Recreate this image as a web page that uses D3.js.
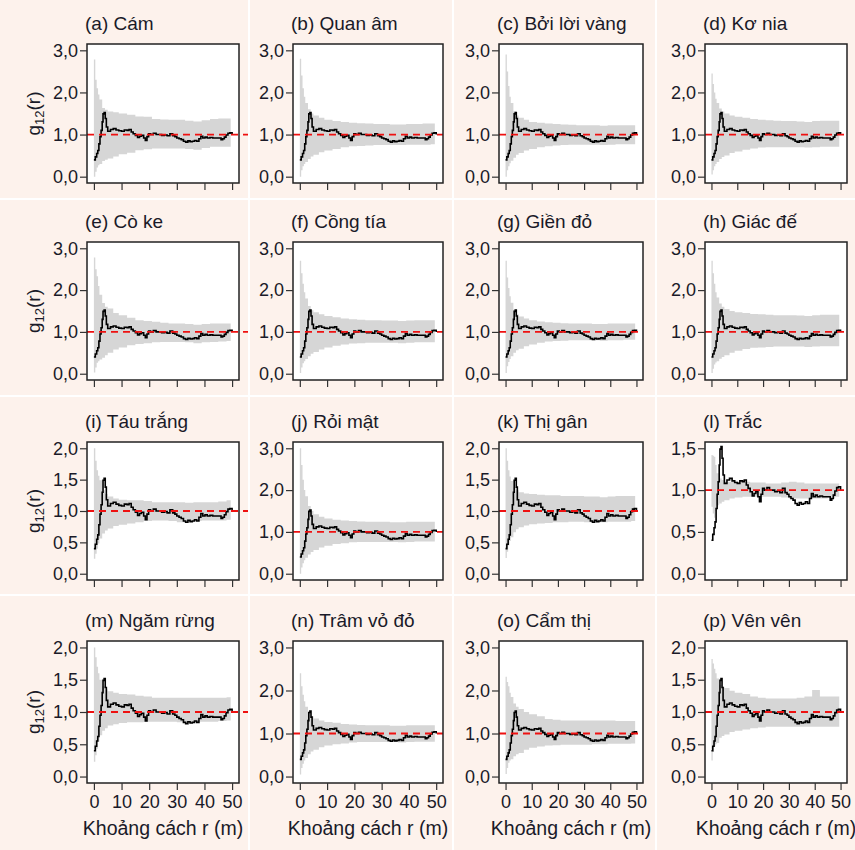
<!DOCTYPE html>
<html>
<head>
<meta charset="utf-8">
<script src="https://cdn.jsdelivr.net/npm/d3@7"></script>
<style>
  body { margin: 0; background: #fdf2ec; }
  text { font-family: "Liberation Sans", Arial, sans-serif; fill: #1a1a28; }
</style>
</head>
<body>
<div id="chart"></div>
<script>
// panel titles, row by row
const titles = ["(a) Cám", "(b) Quan âm", "(c) Bởi lời vàng", "(d) Kơ nia",
  "(e) Cò ke", "(f) Cồng tía", "(g) Giền đỏ", "(h) Giác đế",
  "(i) Táu trắng", "(j) Rỏi mật", "(k) Thị gân", "(l) Trắc",
  "(m) Ngăm rừng", "(n) Trâm vỏ đỏ", "(o) Cẩm thị", "(p) Vên vên"];

// top tick of each panel's y axis
const yTops = [3, 3, 3, 3, 3, 3, 3, 3, 2, 3, 2, 1.5, 2, 3, 3, 2];

const xTicks = [0, 10, 20, 30, 40, 50];

// observed g12(r), step function
const rObs = [0, 0.5, 1, 1.4, 1.8, 2.2, 2.6, 3, 3.3, 3.7, 4.1, 4.5, 5, 6, 7, 8, 9, 10, 11, 12, 12.7,
  13.5, 14.2, 15, 15.8, 16.5, 17.2, 18, 18.6, 19.2, 19.8, 20.5, 21.5, 22.5, 23.5, 24.5, 25.5, 26.5,
  27.5, 28.5, 29.3, 30, 30.8, 31.6, 32.4, 33.2, 34, 34.8, 35.6, 36.4, 37.2, 38, 38.7, 39.4, 40.2,
  41, 42, 43, 44, 45, 46, 46.6, 47.2, 47.8, 48.5, 49.2, 50];
const gObs = [0.40, 0.47, 0.55, 0.62, 0.78, 0.95, 1.10, 1.30, 1.49, 1.52, 1.38, 1.18, 1.08, 1.12,
  1.14, 1.11, 1.09, 1.08, 1.11, 1.10, 1.12, 1.06, 1.02, 0.98, 0.93, 0.96, 0.98, 0.92, 0.86, 0.95,
  1.02, 1.00, 1.03, 1.00, 1.00, 0.98, 0.99, 0.97, 1.02, 0.97, 0.95, 0.92, 0.90, 0.88, 0.84, 0.82,
  0.85, 0.83, 0.84, 0.86, 0.84, 0.90, 0.96, 0.92, 0.94, 0.92, 0.93, 0.92, 0.92, 0.92, 0.88, 0.90,
  0.94, 0.99, 1.03, 1.04, 1.00];

// simulation envelope: r grid, then upper / lower per panel
const rEnv = [0, 0.5, 1, 1.5, 2, 3, 4, 5, 7, 9, 12, 15, 18, 21, 24, 27, 30, 33, 36, 39, 42, 45, 48, 49.5];
const envUpper = [
  [2.78, 2.30, 2.10, 1.95, 1.83, 1.63, 1.59, 1.55, 1.53, 1.50, 1.47, 1.43, 1.42, 1.37, 1.36, 1.35, 1.35, 1.33, 1.31, 1.34, 1.37, 1.38, 1.38, 1.38],
  [2.80, 2.40, 2.10, 1.90, 1.75, 1.60, 1.50, 1.45, 1.40, 1.35, 1.32, 1.30, 1.28, 1.27, 1.26, 1.25, 1.25, 1.24, 1.24, 1.25, 1.25, 1.26, 1.26, 1.26],
  [2.90, 2.50, 2.15, 1.90, 1.75, 1.55, 1.45, 1.40, 1.35, 1.30, 1.28, 1.26, 1.25, 1.24, 1.23, 1.22, 1.22, 1.22, 1.21, 1.22, 1.22, 1.22, 1.22, 1.22],
  [2.45, 2.20, 2.00, 1.85, 1.75, 1.62, 1.55, 1.50, 1.45, 1.42, 1.40, 1.37, 1.35, 1.34, 1.33, 1.32, 1.32, 1.31, 1.30, 1.32, 1.33, 1.33, 1.33, 1.33],
  [2.78, 2.50, 2.33, 2.10, 1.89, 1.69, 1.60, 1.56, 1.45, 1.40, 1.34, 1.28, 1.26, 1.24, 1.22, 1.20, 1.20, 1.19, 1.17, 1.19, 1.20, 1.20, 1.20, 1.20],
  [2.70, 2.40, 2.15, 1.95, 1.80, 1.62, 1.52, 1.47, 1.42, 1.38, 1.35, 1.32, 1.30, 1.29, 1.28, 1.28, 1.27, 1.27, 1.26, 1.27, 1.28, 1.28, 1.28, 1.28],
  [2.70, 2.30, 2.05, 1.85, 1.70, 1.52, 1.42, 1.37, 1.32, 1.28, 1.25, 1.23, 1.22, 1.21, 1.20, 1.20, 1.20, 1.19, 1.19, 1.20, 1.20, 1.20, 1.20, 1.20],
  [2.70, 2.40, 2.15, 1.95, 1.82, 1.68, 1.60, 1.55, 1.50, 1.47, 1.45, 1.43, 1.42, 1.41, 1.40, 1.40, 1.40, 1.39, 1.38, 1.40, 1.41, 1.41, 1.41, 1.41],
  [2.00, 1.80, 1.65, 1.56, 1.49, 1.33, 1.27, 1.23, 1.20, 1.18, 1.17, 1.17, 1.16, 1.14, 1.14, 1.14, 1.14, 1.13, 1.14, 1.14, 1.14, 1.15, 1.17, 1.17],
  [3.00, 2.60, 2.25, 2.00, 1.85, 1.62, 1.50, 1.42, 1.36, 1.32, 1.29, 1.27, 1.26, 1.25, 1.24, 1.24, 1.24, 1.23, 1.23, 1.24, 1.24, 1.24, 1.24, 1.24],
  [2.00, 1.80, 1.65, 1.55, 1.48, 1.38, 1.33, 1.30, 1.28, 1.27, 1.26, 1.25, 1.25, 1.24, 1.24, 1.24, 1.23, 1.23, 1.22, 1.23, 1.24, 1.24, 1.24, 1.24],
  [1.42, 1.41, 1.40, 1.30, 1.20, 1.14, 1.12, 1.10, 1.10, 1.10, 1.10, 1.09, 1.09, 1.08, 1.08, 1.09, 1.10, 1.09, 1.08, 1.08, 1.08, 1.08, 1.08, 1.08],
  [2.00, 1.85, 1.70, 1.60, 1.50, 1.40, 1.35, 1.32, 1.30, 1.28, 1.27, 1.25, 1.24, 1.22, 1.22, 1.22, 1.22, 1.22, 1.22, 1.22, 1.22, 1.22, 1.23, 1.23],
  [2.40, 2.10, 1.90, 1.75, 1.62, 1.48, 1.40, 1.35, 1.30, 1.27, 1.25, 1.22, 1.21, 1.20, 1.19, 1.19, 1.19, 1.18, 1.18, 1.19, 1.19, 1.19, 1.19, 1.19],
  [2.32, 2.20, 2.10, 1.95, 1.85, 1.70, 1.62, 1.57, 1.50, 1.45, 1.40, 1.34, 1.32, 1.30, 1.30, 1.30, 1.30, 1.30, 1.30, 1.30, 1.29, 1.29, 1.29, 1.29],
  [1.82, 1.75, 1.67, 1.60, 1.52, 1.42, 1.39, 1.37, 1.33, 1.30, 1.28, 1.24, 1.22, 1.21, 1.21, 1.21, 1.21, 1.22, 1.24, 1.34, 1.24, 1.24, 1.24, 1.24]
];
const envLower = [
  [0.00, 0.12, 0.22, 0.27, 0.30, 0.37, 0.40, 0.43, 0.48, 0.53, 0.57, 0.63, 0.65, 0.67, 0.67, 0.67, 0.67, 0.66, 0.64, 0.68, 0.71, 0.71, 0.71, 0.71],
  [0.00, 0.15, 0.25, 0.30, 0.35, 0.42, 0.48, 0.52, 0.58, 0.62, 0.66, 0.70, 0.72, 0.73, 0.74, 0.75, 0.75, 0.75, 0.75, 0.76, 0.76, 0.76, 0.77, 0.77],
  [0.00, 0.15, 0.25, 0.32, 0.38, 0.45, 0.52, 0.56, 0.62, 0.66, 0.70, 0.72, 0.74, 0.75, 0.76, 0.76, 0.76, 0.76, 0.75, 0.76, 0.77, 0.77, 0.77, 0.77],
  [0.05, 0.15, 0.25, 0.30, 0.35, 0.42, 0.47, 0.50, 0.56, 0.60, 0.64, 0.67, 0.69, 0.70, 0.70, 0.70, 0.70, 0.70, 0.69, 0.70, 0.71, 0.71, 0.71, 0.71],
  [0.03, 0.15, 0.26, 0.30, 0.34, 0.38, 0.44, 0.50, 0.58, 0.63, 0.68, 0.71, 0.73, 0.75, 0.76, 0.76, 0.76, 0.75, 0.73, 0.75, 0.76, 0.77, 0.78, 0.79],
  [0.02, 0.15, 0.25, 0.30, 0.35, 0.42, 0.48, 0.52, 0.58, 0.63, 0.67, 0.70, 0.72, 0.73, 0.74, 0.74, 0.74, 0.74, 0.73, 0.74, 0.75, 0.75, 0.75, 0.75],
  [0.02, 0.18, 0.28, 0.35, 0.42, 0.50, 0.56, 0.60, 0.66, 0.70, 0.74, 0.77, 0.78, 0.79, 0.80, 0.80, 0.80, 0.80, 0.79, 0.80, 0.80, 0.81, 0.81, 0.81],
  [0.02, 0.12, 0.22, 0.27, 0.30, 0.36, 0.40, 0.44, 0.50, 0.55, 0.59, 0.62, 0.63, 0.64, 0.65, 0.65, 0.65, 0.65, 0.64, 0.65, 0.66, 0.66, 0.66, 0.66],
  [0.24, 0.32, 0.40, 0.48, 0.56, 0.64, 0.69, 0.72, 0.76, 0.78, 0.80, 0.82, 0.84, 0.85, 0.85, 0.84, 0.82, 0.83, 0.84, 0.85, 0.85, 0.85, 0.86, 0.86],
  [0.00, 0.15, 0.25, 0.32, 0.38, 0.46, 0.52, 0.57, 0.63, 0.67, 0.71, 0.73, 0.75, 0.76, 0.76, 0.76, 0.76, 0.76, 0.75, 0.76, 0.77, 0.77, 0.77, 0.77],
  [0.25, 0.35, 0.45, 0.52, 0.58, 0.66, 0.71, 0.74, 0.77, 0.79, 0.80, 0.81, 0.82, 0.82, 0.83, 0.83, 0.82, 0.82, 0.82, 0.83, 0.83, 0.83, 0.84, 0.84],
  [0.80, 0.72, 0.67, 0.75, 0.82, 0.84, 0.86, 0.88, 0.90, 0.91, 0.92, 0.92, 0.92, 0.92, 0.92, 0.91, 0.90, 0.90, 0.90, 0.90, 0.90, 0.91, 0.92, 0.92],
  [0.23, 0.33, 0.43, 0.54, 0.64, 0.71, 0.75, 0.79, 0.81, 0.83, 0.84, 0.84, 0.85, 0.85, 0.85, 0.85, 0.84, 0.84, 0.85, 0.85, 0.85, 0.86, 0.87, 0.87],
  [0.05, 0.20, 0.30, 0.37, 0.43, 0.52, 0.58, 0.62, 0.68, 0.72, 0.75, 0.77, 0.79, 0.80, 0.80, 0.80, 0.80, 0.80, 0.79, 0.80, 0.81, 0.81, 0.81, 0.81],
  [0.06, 0.20, 0.32, 0.37, 0.40, 0.47, 0.52, 0.55, 0.62, 0.67, 0.70, 0.72, 0.73, 0.74, 0.74, 0.74, 0.74, 0.75, 0.75, 0.76, 0.76, 0.76, 0.77, 0.77],
  [0.25, 0.38, 0.47, 0.50, 0.52, 0.60, 0.63, 0.65, 0.69, 0.71, 0.73, 0.75, 0.76, 0.77, 0.77, 0.77, 0.77, 0.77, 0.77, 0.77, 0.77, 0.77, 0.77, 0.77]
];

const width = 855, height = 850;
// plot box edges for the 4 columns and 4 rows
const boxLeft = [87, 293, 499, 705], boxRight = [239, 443, 643, 847];
const boxTop = [44, 242, 442, 641], boxBottom = [183, 380, 580, 783];
const cellX = [249, 453, 656], cellY = [199, 396, 595];

const svg = d3.select("#chart").append("svg")
  .attr("width", width)
  .attr("height", height);

svg.append("rect").attr("width", width).attr("height", height).attr("fill", "#fdf2ec");

// thin white lines between the panels
svg.selectAll("line.vsep").data(cellX).join("line")
  .attr("class", "vsep")
  .attr("x1", d => d).attr("x2", d => d)
  .attr("y1", 0).attr("y2", height)
  .attr("stroke", "#fff").attr("stroke-width", 2);
svg.selectAll("line.hsep").data(cellY).join("line")
  .attr("class", "hsep")
  .attr("y1", d => d).attr("y2", d => d)
  .attr("x1", 0).attr("x2", width)
  .attr("stroke", "#fff").attr("stroke-width", 2);

const fmt = d => d3.format(".1f")(d).replace(".", ",");

titles.forEach((title, i) => {
  const col = i % 4, row = Math.floor(i / 4);
  const x0 = boxLeft[col], x1 = boxRight[col], y0 = boxTop[row], y1 = boxBottom[row];
  const yTop = yTops[i];
  const pad = yTop * 0.05;

  const xScale = d3.scaleLinear().domain([-2.5, 52.5]).range([x0, x1]);
  const yScale = d3.scaleLinear().domain([-pad, yTop + pad]).range([y1, y0]);
  const yTicks = yTop === 3 ? [0, 1, 2, 3] : d3.range(0, yTop + 0.01, 0.5);

  const g = svg.append("g");

  g.append("rect")
    .attr("x", x0).attr("y", y0)
    .attr("width", x1 - x0).attr("height", y1 - y0)
    .attr("fill", "#fff");

  // grey envelope
  const env = rEnv.map((r, k) => ({ r: r, hi: envUpper[i][k], lo: envLower[i][k] }));
  g.append("path")
    .datum(env)
    .attr("fill", "#d6d6d6")
    .attr("d", d3.area()
      .curve(d3.curveStepAfter)
      .x(d => xScale(d.r))
      .y0(d => yScale(d.lo))
      .y1(d => yScale(d.hi)));

  // observed line
  const obs = rObs.map((r, k) => ({ r: r, g: gObs[k] }));
  g.append("path")
    .datum(obs)
    .attr("fill", "none")
    .attr("stroke", "#000")
    .attr("stroke-width", 1.6)
    .attr("d", d3.line()
      .curve(d3.curveStepAfter)
      .x(d => xScale(d.r))
      .y(d => yScale(d.g)));

  // expected value g = 1 (runs past the box in the first column)
  g.append("line")
    .attr("x1", x0).attr("x2", col === 0 ? x1 + 9 : x1)
    .attr("y1", yScale(1)).attr("y2", yScale(1))
    .attr("stroke", "#ee1111")
    .attr("stroke-width", 1.8)
    .attr("stroke-dasharray", "7,5");

  g.append("rect")
    .attr("x", x0).attr("y", y0)
    .attr("width", x1 - x0).attr("height", y1 - y0)
    .attr("fill", "none")
    .attr("stroke", "#222")
    .attr("stroke-width", 1.5);

  // axes
  const yAxis = g.append("g")
    .attr("transform", `translate(${x0},0)`)
    .call(d3.axisLeft(yScale).tickValues(yTicks).tickFormat(fmt).tickSize(7).tickPadding(2));
  const xAxis = g.append("g")
    .attr("transform", `translate(0,${y1})`)
    .call(d3.axisBottom(xScale).tickValues(xTicks).tickSize(7).tickPadding(5)
      .tickFormat(row === 3 ? d3.format("d") : ""));

  [yAxis, xAxis].forEach(ax => {
    ax.select(".domain").remove();
    ax.selectAll(".tick line").attr("stroke", "#333").attr("stroke-width", 1.2);
    ax.selectAll(".tick text").attr("font-size", 18).attr("fill", "#1a1a28");
  });

  g.append("text")
    .attr("x", x0 - 2)
    .attr("y", y0 - 14)
    .attr("font-size", 19)
    .text(title);

  if (col === 0) {
    const lab = g.append("text")
      .attr("transform", `translate(40,${(y0 + y1) / 2}) rotate(-90)`)
      .attr("text-anchor", "middle")
      .attr("font-size", 19);
    lab.append("tspan").text("g");
    lab.append("tspan").attr("font-size", 13).attr("dy", 4).text("12");
    lab.append("tspan").attr("dy", -4).text("(r)");
  }

  if (row === 3) {
    g.append("text")
      .attr("x", (x0 + x1) / 2)
      .attr("y", y1 + 52)
      .attr("text-anchor", "middle")
      .attr("font-size", 19.5)
      .text("Khoảng cách r (m)");
  }
});
</script>
</body>
</html>
